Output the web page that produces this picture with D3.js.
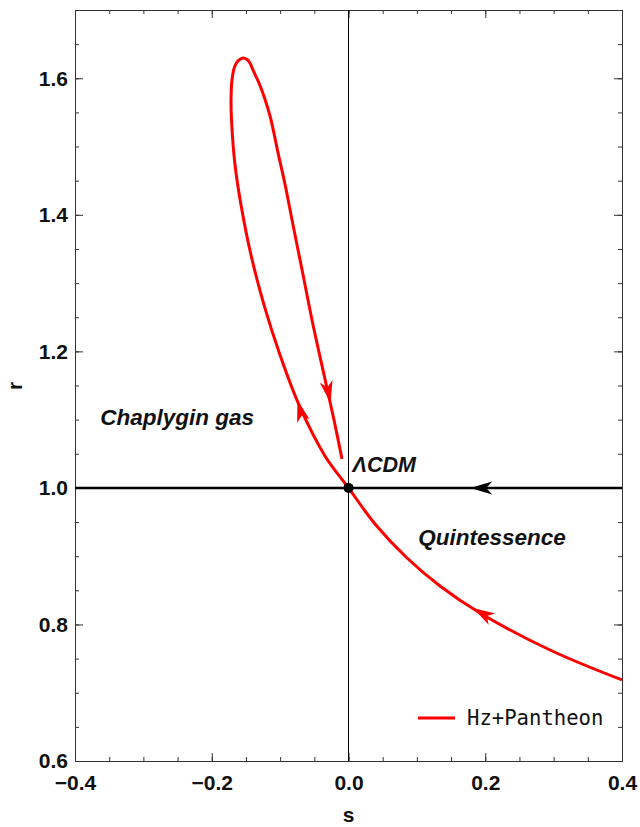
<!DOCTYPE html>
<html>
<head>
<meta charset="utf-8">
<script src="https://cdnjs.cloudflare.com/ajax/libs/d3/7.8.5/d3.min.js"></script>
<style>
  body { margin: 0; background: #fff; }
  svg { display: block; }
</style>
</head>
<body>
<svg id="chart" width="640" height="827"></svg>
<script>
// trajectory in the s-r plane, in the order it is travelled
var curveS = [0.400, 0.2947, 0.1923, 0.1338, 0.0856, 0.0388, 0.000,
              -0.0344, -0.0724, -0.1002, -0.1236, -0.1426, -0.1572, -0.1660, -0.1711,
              -0.1718, -0.1704, -0.1667, -0.1616, -0.1543, -0.1484, -0.1441, -0.1397,
              -0.1297, -0.1218, -0.1144, -0.1024, -0.0927,
              -0.0812, -0.0665, -0.0519, -0.0358, -0.0212, -0.0095];
var curveR = [0.7187, 0.7626, 0.8168, 0.8563, 0.8973, 0.9472, 1.000,
              1.0468, 1.1215, 1.1948, 1.2680, 1.3412, 1.4144, 1.4733, 1.5389,
              1.5682, 1.5975, 1.6166, 1.6254, 1.6297, 1.6275, 1.6224, 1.6122,
              1.5902, 1.5682, 1.5433, 1.4879, 1.4440,
              1.3854, 1.3122, 1.2390, 1.1658, 1.0995, 1.0424];

// arrow heads: [from s, from r, tip s, tip r]
var redArrows = [
  [0.2143, 0.8051, 0.1821, 0.8241],
  [-0.0665, 1.0995, -0.0746, 1.1288],
  [-0.0322, 1.1537, -0.0262, 1.1244]
];
var blackArrows = [[0.210, 1.0, 0.178, 1.0]];

var xTicks = [-0.4, -0.2, 0.0, 0.2, 0.4];
var xTickLabels = ['\u22120.4', '\u22120.2', '0.0', '0.2', '0.4'];
var yTicks = [0.6, 0.8, 1.0, 1.2, 1.4, 1.6];
var yTickLabels = ['0.6', '0.8', '1.0', '1.2', '1.4', '1.6'];
var xMinor = d3.range(-0.4, 0.4001, 0.05);
var yMinor = d3.range(0.6, 1.7001, 0.05);

var legendLabel = 'Hz+Pantheon';

var svg = d3.select('#chart');
var pLeft = 75, pRight = 622, pTop = 10, pBottom = 761;

var x = d3.scaleLinear().domain([-0.4, 0.4]).range([pLeft, pRight]);
var y = d3.scaleLinear().domain([0.6, 1.7]).range([pBottom, pTop]);

var tickFont = function(sel) {
  sel.selectAll('text')
     .attr('font-family', 'Liberation Sans, Arial, sans-serif')
     .attr('font-weight', 'bold')
     .attr('font-size', '21px')
     .attr('fill', '#111');
};
var styleAxis = function(sel) {
  sel.select('.domain').attr('stroke', '#333').attr('stroke-width', 1);
  sel.selectAll('.tick line').attr('stroke', '#333').attr('stroke-width', 1);
};

// minor ticks, all four sides
svg.append('g').attr('transform', 'translate(0,' + pBottom + ')')
   .call(d3.axisBottom(x).tickValues(xMinor).tickSize(-4).tickFormat('')).call(styleAxis);
svg.append('g').attr('transform', 'translate(0,' + pTop + ')')
   .call(d3.axisTop(x).tickValues(xMinor).tickSize(-4).tickFormat('')).call(styleAxis);
svg.append('g').attr('transform', 'translate(' + pLeft + ',0)')
   .call(d3.axisLeft(y).tickValues(yMinor).tickSize(-4).tickFormat('')).call(styleAxis);
svg.append('g').attr('transform', 'translate(' + pRight + ',0)')
   .call(d3.axisRight(y).tickValues(yMinor).tickSize(-4).tickFormat('')).call(styleAxis);

// major ticks
svg.append('g').attr('transform', 'translate(0,' + pBottom + ')')
   .call(d3.axisBottom(x).tickValues(xTicks).tickSize(-8).tickPadding(14)
         .tickFormat(function(d, i) { return xTickLabels[i]; }))
   .call(styleAxis).call(tickFont);
svg.append('g').attr('transform', 'translate(0,' + pTop + ')')
   .call(d3.axisTop(x).tickValues(xTicks).tickSize(-8).tickFormat('')).call(styleAxis);
svg.append('g').attr('transform', 'translate(' + pLeft + ',0)')
   .call(d3.axisLeft(y).tickValues(yTicks).tickSize(-8).tickPadding(7)
         .tickFormat(function(d, i) { return yTickLabels[i]; }))
   .call(styleAxis).call(tickFont);
svg.append('g').attr('transform', 'translate(' + pRight + ',0)')
   .call(d3.axisRight(y).tickValues(yTicks).tickSize(-8).tickFormat('')).call(styleAxis);

// axis titles
svg.append('text').attr('x', (pLeft + pRight) / 2).attr('y', 822)
   .attr('text-anchor', 'middle')
   .attr('font-family', 'Liberation Sans, Arial, sans-serif').attr('font-weight', 'bold')
   .attr('font-size', '21px').attr('fill', '#111').text('s');
svg.append('text').attr('transform', 'translate(22,386) rotate(-90)')
   .attr('text-anchor', 'middle')
   .attr('font-family', 'Liberation Sans, Arial, sans-serif').attr('font-weight', 'bold')
   .attr('font-size', '21px').attr('fill', '#111').text('r');

// reference lines
svg.append('line').attr('x1', x(0)).attr('x2', x(0)).attr('y1', pTop).attr('y2', pBottom)
   .attr('stroke', '#000').attr('stroke-width', 1);
svg.append('line').attr('x1', pLeft).attr('x2', pRight).attr('y1', y(1)).attr('y2', y(1))
   .attr('stroke', '#000').attr('stroke-width', 2.5);

// trajectory
var pts = curveS.map(function(s, i) { return [s, curveR[i]]; });
var line = d3.line()
  .x(function(d) { return x(d[0]); })
  .y(function(d) { return y(d[1]); })
  .curve(d3.curveCatmullRom.alpha(0.5));
svg.append('path').attr('d', line(pts))
   .attr('fill', 'none').attr('stroke', '#ff0000').attr('stroke-width', 3)
   .attr('stroke-linejoin', 'round');

var draw_arrow = function(a, color) {
  var x0 = x(a[0]), y0 = y(a[1]), x1 = x(a[2]), y1 = y(a[3]);
  var ang = Math.atan2(y1 - y0, x1 - x0) * 180 / Math.PI;
  svg.append('path')
     .attr('d', 'M0,0 L-22,-6.5 L-16,0 L-22,6.5 Z')
     .attr('transform', 'translate(' + x1 + ',' + y1 + ') rotate(' + ang + ')')
     .attr('fill', color).attr('stroke', 'none');
};
redArrows.forEach(function(a) { draw_arrow(a, '#ff0000'); });
blackArrows.forEach(function(a) { draw_arrow(a, '#000'); });

// LCDM point
svg.append('circle').attr('cx', x(0)).attr('cy', y(1)).attr('r', 5).attr('fill', '#000');

// region labels
var label = function(txt, s, r, size) {
  svg.append('text').attr('x', x(s)).attr('y', y(r))
     .attr('font-family', 'Liberation Sans, Arial, sans-serif')
     .attr('font-weight', 'bold').attr('font-style', 'italic')
     .attr('font-size', size + 'px').attr('fill', '#111').text(txt);
};
label('Chaplygin gas', -0.363, 1.092, 22.5);
label('\u039bCDM', 0.006, 1.0233, 21.5);
label('Quintessence', 0.102, 0.9164, 22.5);

// legend
svg.append('line').attr('x1', 418).attr('x2', 455).attr('y1', 718).attr('y2', 718)
   .attr('stroke', '#ff0000').attr('stroke-width', 3);
svg.append('text').attr('x', 467).attr('y', 725)
   .attr('font-family', 'DejaVu Sans Mono, monospace')
   .attr('font-size', '20.6px').attr('fill', '#111').text(legendLabel);
</script>
</body>
</html>
